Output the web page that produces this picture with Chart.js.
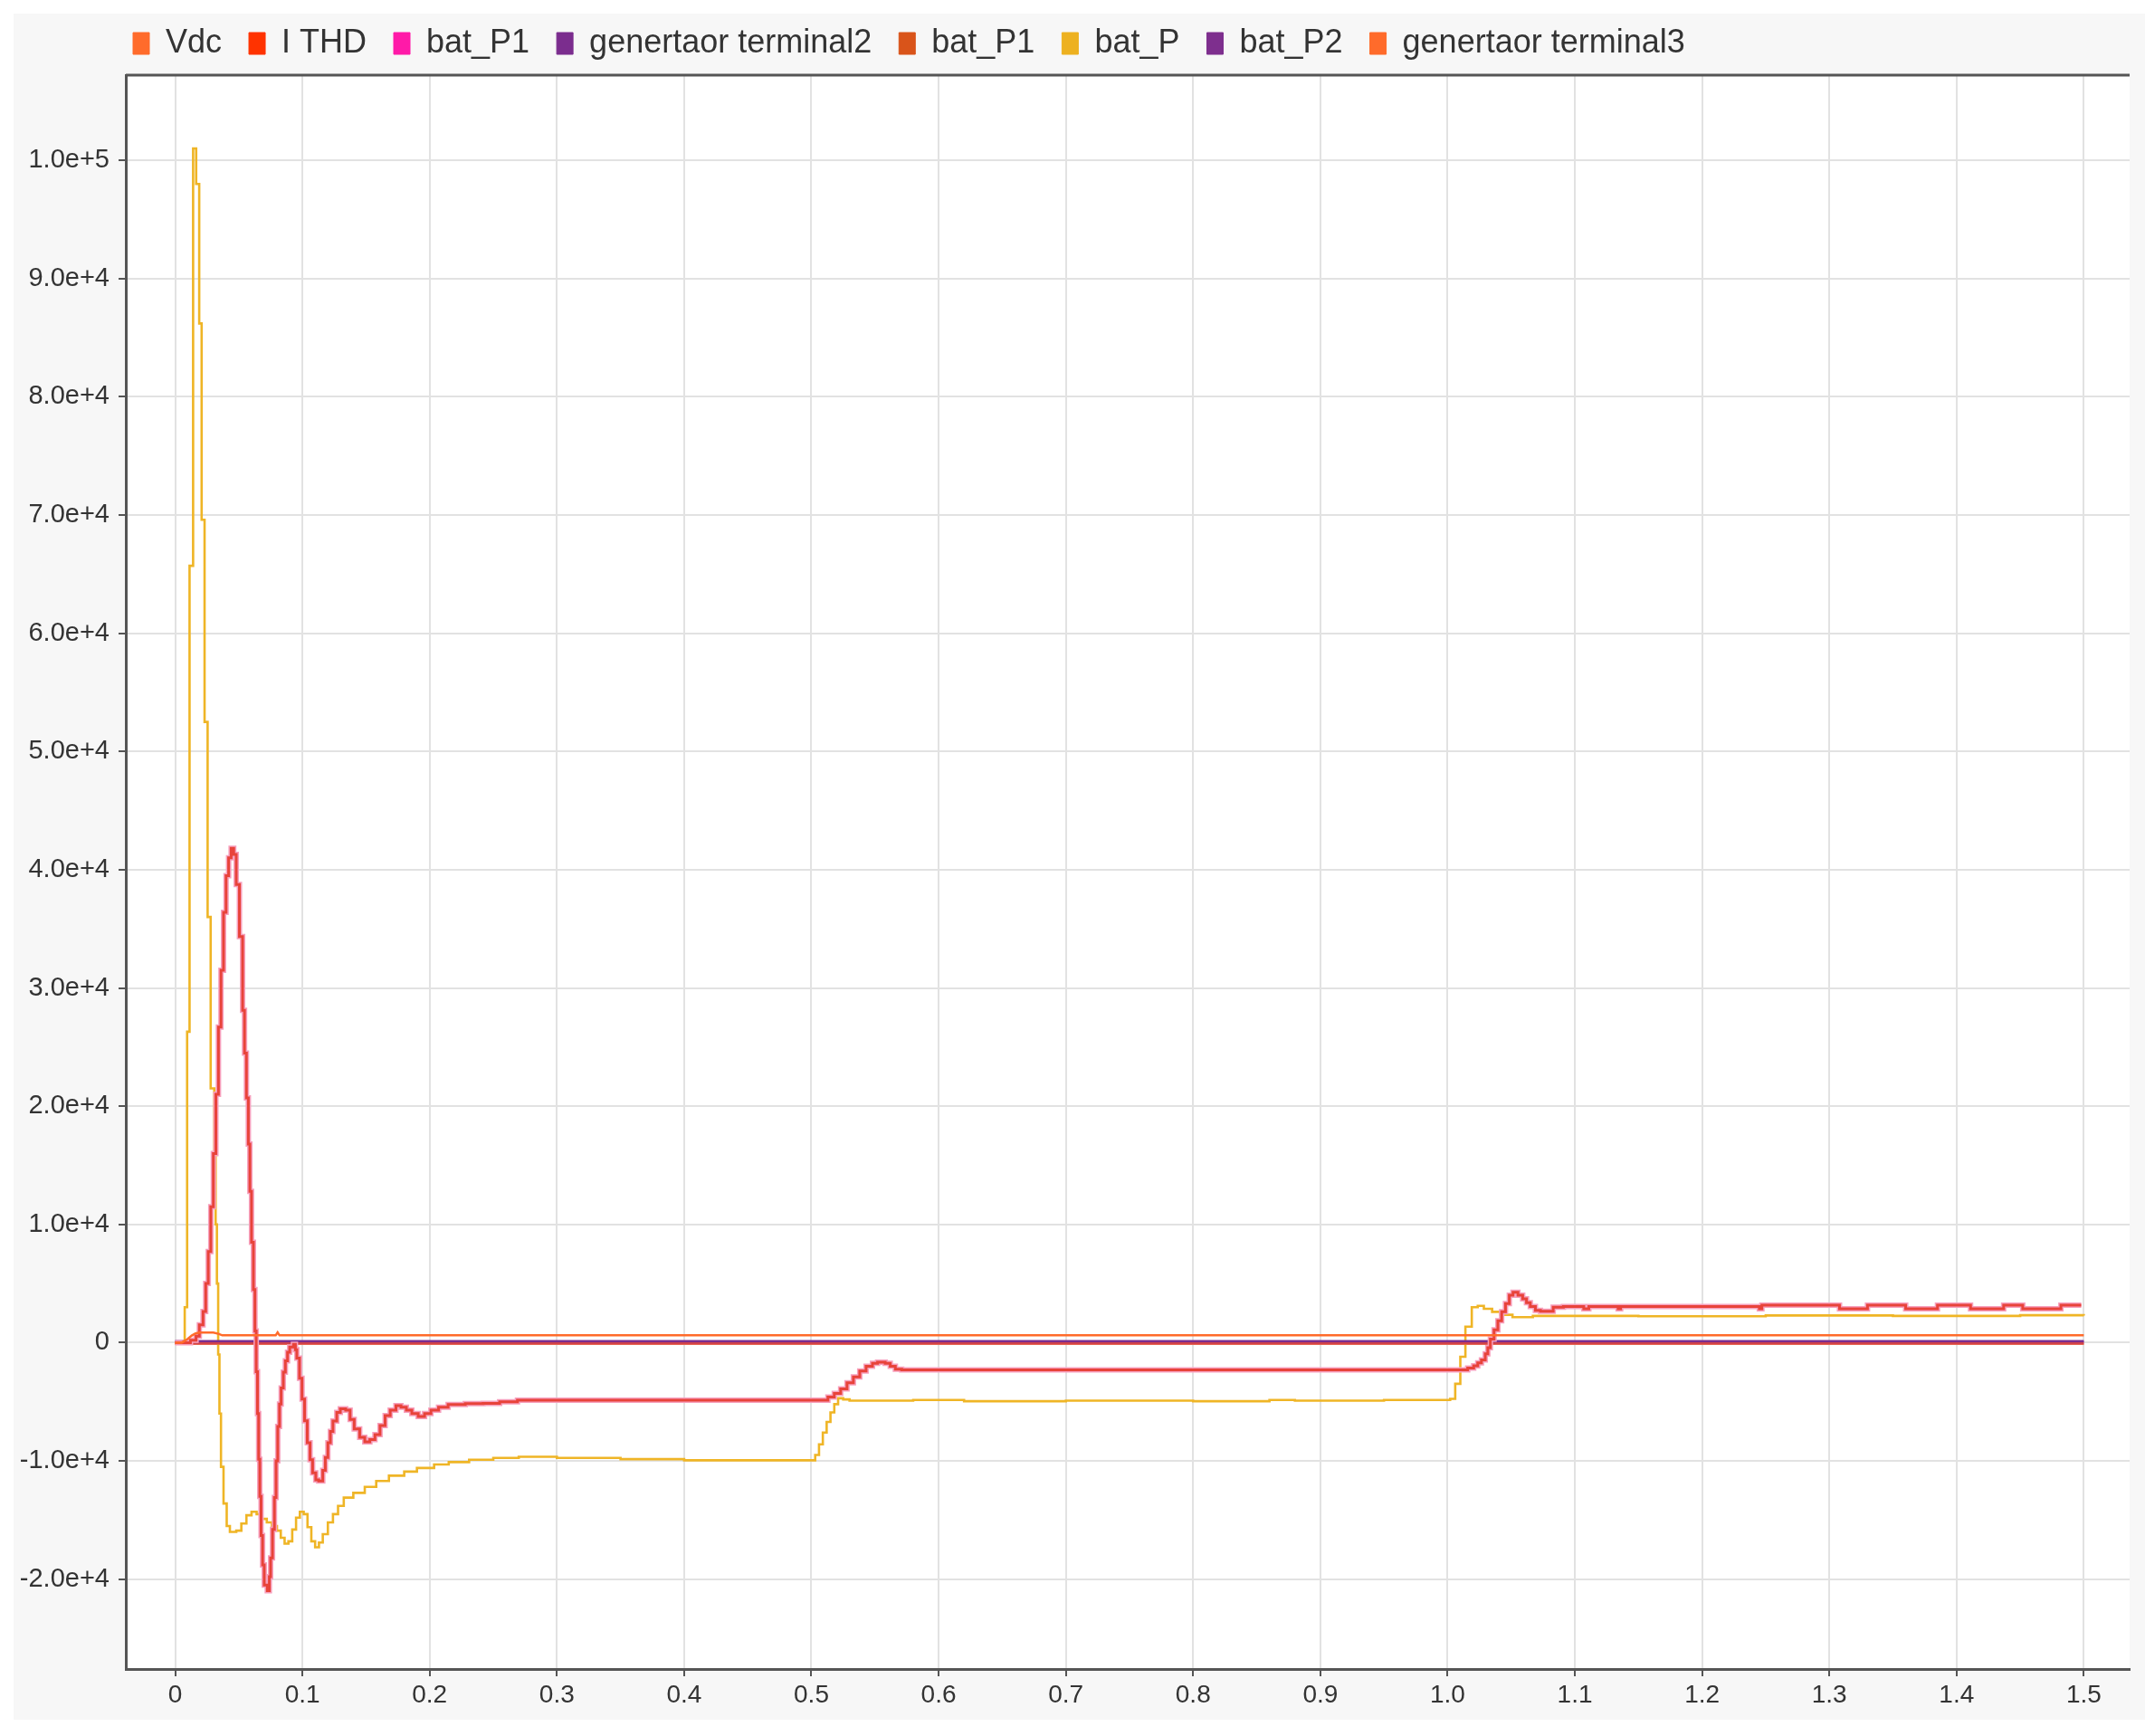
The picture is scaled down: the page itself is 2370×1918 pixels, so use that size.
<!DOCTYPE html>
<html>
<head>
<meta charset="utf-8">
<script src="https://cdn.jsdelivr.net/npm/chart.js@4.4.1/dist/chart.umd.min.js"></script>
<style>
  html, body { margin: 0; padding: 0; background: #fff; }
  #wrap { width: 2370px; height: 1918px; position: relative; }
</style>
</head>
<body>
<div id="wrap"><canvas id="simChart"></canvas></div>
<script>
Chart.defaults.font.family = "'Liberation Sans', Arial, sans-serif";
Chart.defaults.color = "#333";

// legend names and their swatch colours
const names = ["Vdc", "I THD", "bat_P1", "genertaor terminal2", "bat_P1", "bat_P", "bat_P2", "genertaor terminal3"];
const legendColors = ["#ff6b2b", "#ff3300", "#ff1aa8", "#7b2d8e", "#d9541a", "#edb120", "#7e2f8e", "#ff6b2b"];

// axis ticks
const xTicks = [0, 0.1, 0.2, 0.3, 0.4, 0.5, 0.6, 0.7, 0.8, 0.9, 1.0, 1.1, 1.2, 1.3, 1.4, 1.5];
const xTickLabels = ["0", "0.1", "0.2", "0.3", "0.4", "0.5", "0.6", "0.7", "0.8", "0.9", "1.0", "1.1", "1.2", "1.3", "1.4", "1.5"];
const yTicks = [-20000, -10000, 0, 10000, 20000, 30000, 40000, 50000, 60000, 70000, 80000, 90000, 100000];
const yTickLabels = ["-2.0e+4", "-1.0e+4", "0", "1.0e+4", "2.0e+4", "3.0e+4", "4.0e+4", "5.0e+4", "6.0e+4", "7.0e+4", "8.0e+4", "9.0e+4", "1.0e+5"];

// Vdc
const tVdc = [0, 0.005, 0.0097, 0.013, 0.016, 0.019, 0.03, 0.034, 0.037, 0.079, 0.0805, 0.082, 1.5];
const vdc = [0, 0, 300, 600, 780, 850, 850, 750, 620, 620, 870, 620, 620];

// I THD / bat_P1 (oscillating trace, sample and hold)
const tOsc = [0, 0.012, 0.0164, 0.019, 0.0219, 0.024, 0.026, 0.028, 0.03, 0.032, 0.034, 0.036, 0.038, 0.04,
  0.042, 0.044, 0.046, 0.048, 0.0505, 0.053, 0.0545, 0.056, 0.0575, 0.0587, 0.06, 0.0615, 0.0627, 0.0637,
  0.0647, 0.0656, 0.0665, 0.0675, 0.0687, 0.07, 0.0724, 0.074, 0.075, 0.0765, 0.078, 0.0793, 0.0806, 0.082,
  0.0833, 0.085, 0.0866, 0.0883, 0.09, 0.093, 0.0945, 0.0956, 0.0977, 0.0997, 0.1017, 0.1038, 0.106, 0.108,
  0.1105, 0.1128, 0.116, 0.118, 0.12, 0.122, 0.124, 0.127, 0.1298, 0.134, 0.1375, 0.1407, 0.145, 0.149,
  0.153, 0.157, 0.161, 0.165, 0.169, 0.1735, 0.1775, 0.1817, 0.186, 0.191, 0.196, 0.201, 0.207, 0.2145,
  0.228, 0.242, 0.255, 0.269, 0.513, 0.518, 0.523, 0.528, 0.533, 0.538, 0.543, 0.548, 0.552, 0.558, 0.562,
  0.566, 0.571, 1.0158, 1.0205, 1.0237, 1.0266, 1.0296, 1.0316, 1.0336, 1.0365, 1.0395, 1.0425, 1.0455,
  1.0485, 1.0514, 1.0553, 1.059, 1.062, 1.065, 1.069, 1.073, 1.083, 1.091, 1.107, 1.111, 1.134, 1.136,
  1.245, 1.247, 1.308, 1.33, 1.36, 1.385, 1.411, 1.437, 1.452, 1.482, 1.498, 1.5];
const osc = [0, 200, 550, 1500, 2640, 5000, 7700, 11500, 16000, 21000, 26700, 31500, 36400, 39500,
  41000, 41800, 41300, 38750, 34350, 28100, 24500, 20700, 16800, 12800, 8500, 4500, 1000, -2450,
  -6000, -9860, -13000, -16300, -18800, -20500, -20970, -19800, -18200, -15800, -13100, -10000, -7080, -5200,
  -3840, -2500, -1530, -800, -370, -140, -600, -1300, -3000, -4770, -6600, -8470, -9900, -11000,
  -11600, -11700, -10800, -9700, -8470, -7500, -6620, -5900, -5600, -5700, -6500, -7300, -8000, -8380,
  -8200, -7780, -7000, -6160, -5700, -5320, -5450, -5700, -6000, -6250, -6000, -5700, -5450, -5230,
  -5150, -5140, -5000, -4860, -4600, -4300, -3900, -3400, -2900, -2400, -2000, -1750, -1650, -1750, -2000,
  -2250, -2300, -2150, -1950, -1700, -1450, -950, -430, 300, 1090, 1850, 2610,
  3300, 4010, 4260, 4010, 3700, 3380, 3050, 2740, 2660, 3000, 3050, 2870, 3050, 2870,
  3050, 2870, 3170, 2870, 3170, 2870, 3170, 2870, 3170, 2870, 3170, 3170];

// bat_P (yellow trace, sample and hold)
const tBatP = [0, 0.0075, 0.0094, 0.0113, 0.0141, 0.0165, 0.0189, 0.0208, 0.0231, 0.0255, 0.0279, 0.0307,
  0.0318, 0.0328, 0.0338, 0.0348, 0.036, 0.038, 0.0405, 0.043, 0.048, 0.052, 0.056, 0.06, 0.064, 0.068,
  0.072, 0.076, 0.08, 0.083, 0.086, 0.089, 0.092, 0.095, 0.098, 0.101, 0.104, 0.107, 0.11, 0.113, 0.116,
  0.12, 0.124, 0.128, 0.1325, 0.14, 0.149, 0.158, 0.168, 0.18, 0.19, 0.2035, 0.215, 0.231, 0.25, 0.27,
  0.3, 0.35, 0.4, 0.45, 0.5, 0.503, 0.506, 0.509, 0.512, 0.515, 0.518, 0.521, 0.525, 0.53, 0.58, 0.62,
  0.7, 0.8, 0.86, 0.88, 0.95, 1.002, 1.006, 1.01, 1.014, 1.019, 1.0237, 1.0285, 1.035, 1.0415, 1.051,
  1.067, 1.15, 1.25, 1.35, 1.45, 1.5];
const batP = [0, 3000, 26300, 65700, 101000, 98000, 86200, 69600, 52500, 36000, 21500, 15900,
  10000, 5000, -1000, -6000, -10500, -13600, -15500, -16000, -15900, -15300, -14600, -14300, -14500, -14900,
  -15200, -15500, -15900, -16500, -17000, -16800, -15800, -14800, -14300, -14500, -15600, -16800, -17300, -16900, -16200,
  -15200, -14500, -13800, -13100, -12700, -12200, -11700, -11250, -10900, -10600, -10300, -10100, -9900, -9750, -9650,
  -9750, -9850, -9950, -9950, -9950, -9500, -8600, -7600, -6700, -5900, -5200, -4700, -4800, -4900, -4850, -4950,
  -4900, -4950, -4850, -4900, -4850, -4750, -3480, -1190, 1350, 3000, 3120, 2870, 2610, 2360, 2160,
  2260, 2230, 2300, 2260, 2320, 2300];

// traces sitting near zero
const tFlat = [0, 1.5];
const gen2 = [120, 120];
const batP1b = [-40, -40];
const batP2 = [60, 60];
const gen3 = [-120, -120];

const pts = (ts, vs) => ts.map((t, i) => ({ x: t, y: vs[i] }));

const panel = {
  id: "panel",
  beforeDraw(chart) {
    const { ctx, chartArea: a } = chart;
    ctx.save();
    ctx.fillStyle = "#fff";
    ctx.fillRect(0, 0, chart.width, chart.height);
    ctx.fillStyle = "#f7f7f7";
    ctx.fillRect(15, 15, chart.width - 15, 1885);
    ctx.fillStyle = "#fff";
    ctx.fillRect(a.left, a.top, a.right - a.left, a.bottom - a.top);
    ctx.restore();
  },
  afterLayout(chart) {
    // legend sits a bit higher and further right than chart.js puts it
    chart.legend.left = 117;
    chart.legend.top -= 7;
  },
  afterDraw(chart) {
    const { ctx, chartArea: a } = chart;
    ctx.save();
    ctx.strokeStyle = "#555";
    ctx.lineWidth = 3;
    ctx.beginPath();
    ctx.moveTo(a.left, a.top);
    ctx.lineTo(a.right, a.top);
    ctx.stroke();
    ctx.restore();
  },
};

const line = (i, data, color, width, stepped) => ({
  label: names[i],
  data,
  borderColor: color,
  backgroundColor: legendColors[i],
  borderWidth: width,
  pointRadius: 0,
  tension: 0,
  stepped,
});

new Chart(document.getElementById("simChart"), {
  type: "line",
  data: {
    datasets: [
      line(0, pts(tVdc, vdc), "#ff6b2b", 2.5, false),
      line(1, pts(tOsc, osc), "#e8433a", 3, true),
      line(2, pts(tOsc, osc), "#f7a0bd", 6, true),
      line(3, pts(tFlat, gen2), "#7b2d8e", 2.5, false),
      line(4, pts(tFlat, batP1b), "#d0414a", 3, false),
      line(5, pts(tBatP, batP), "#efb526", 2.6, true),
      line(6, pts(tFlat, batP2), "#9a6ab8", 2, false),
      line(7, pts(tFlat, gen3), "#ff8a5a", 2, false),
    ],
  },
  options: {
    responsive: true,
    maintainAspectRatio: false,
    animation: false,
    events: [],
    layout: { padding: { top: 7, left: 0, right: 17, bottom: 0 } },
    plugins: {
      tooltip: { enabled: false },
      legend: {
        position: "top",
        align: "start",
        labels: {
          boxWidth: 18,
          boxHeight: 24,
          padding: 30,
          color: "#333",
          font: { size: 36 },
          generateLabels: (chart) =>
            Chart.defaults.plugins.legend.labels.generateLabels(chart).map((l, i) => ({
              ...l,
              fillStyle: legendColors[i],
              strokeStyle: legendColors[i],
              lineWidth: 1,
            })),
        },
      },
    },
    scales: {
      x: {
        type: "linear",
        min: -0.0388,
        max: 1.536,
        afterBuildTicks: (axis) => { axis.ticks = xTicks.map((v) => ({ value: v })); },
        afterFit: (scale) => { scale.height = 74; },
        ticks: {
          autoSkip: false,
          maxRotation: 0,
          padding: 4,
          color: "#333",
          font: { size: 28 },
          callback: (v) => xTickLabels[xTicks.indexOf(v)],
        },
        grid: { color: "#e2e2e2", lineWidth: 2, tickColor: "#555", tickLength: 8, tickWidth: 2 },
        border: { color: "#555", width: 3 },
      },
      y: {
        min: -27600,
        max: 107200,
        afterBuildTicks: (axis) => { axis.ticks = yTicks.map((v) => ({ value: v })); },
        afterFit: (scale) => { scale.width = 139; },
        ticks: {
          autoSkip: false,
          padding: 10,
          color: "#333",
          font: { size: 29 },
          callback: (v) => yTickLabels[yTicks.indexOf(v)],
        },
        grid: { color: "#e2e2e2", lineWidth: 2, tickColor: "#555", tickLength: 8, tickWidth: 2 },
        border: { color: "#555", width: 3 },
      },
    },
  },
  plugins: [panel],
});
</script>
</body>
</html>
